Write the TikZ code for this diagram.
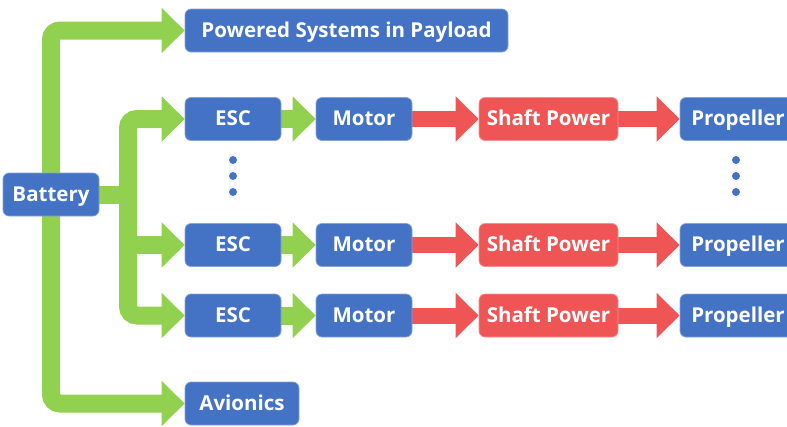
\documentclass[tikz,border=0pt]{standalone}
\usepackage{fontspec}
\setmainfont{Open Sans}
\usetikzlibrary{arrows.meta,backgrounds}
\definecolor{boxblue}{HTML}{4472C4}
\definecolor{boxred}{HTML}{F05555}
\definecolor{flowgreen}{HTML}{92D050}
\definecolor{flowred}{HTML}{F05555}
\begin{document}
\begin{tikzpicture}[x=1pt,y=-1pt,
  unit/.style={rounded corners=6pt, fill=boxblue, draw=boxblue!65!white, line width=0.7pt,
    text=white, font=\bfseries\fontsize{20.5}{24}\selectfont, minimum height=43pt, inner sep=0pt,
    text height=17.5pt, text depth=4.5pt},
  power/.style={unit, fill=boxred, draw=boxred!65!white},
  headtip/.tip={Triangle[length=23pt,width=44pt]},
  gflow/.style={draw=flowgreen, line width=18pt, rounded corners=9pt, -headtip},
  gboth/.style={gflow, headtip-headtip},
  gplain/.style={draw=flowgreen, line width=18pt},
  rflow/.style={draw=flowred, line width=16pt, -headtip},
  dot/.style={circle, fill=boxblue, inner sep=0pt, minimum size=8pt}
]
\useasboundingbox (0,0) rectangle (787,426);

% blocks
\node[unit, minimum width=323pt] (pay) at (346.5,30.5) {Powered Systems in Payload};
\node[unit, minimum width=96pt] (bat) at (51,194.5) {Battery};
\node[unit, minimum width=114pt] (avi) at (242,403.5) {Avionics};

\foreach \r/\y in {1/119, 2/245, 3/315.5} {
  \node[unit, minimum width=96pt] (esc\r) at (233,\y) {ESC};
  \node[unit, minimum width=96pt] (mot\r) at (364,\y) {Motor};
  \node[power, minimum width=139pt] (sh\r) at (548.5,\y) {Shaft Power};
  \node[unit, minimum width=116pt] (pr\r) at (738,\y) {Propeller};
}

% ellipsis dots
\foreach \n/\y in {a/160, b/176, c/192} {
  \node[dot] (ld\n) at (233,\y) {};
  \node[dot] (rd\n) at (736,\y) {};
}

\coordinate (hub) at (128,194.5);

\begin{scope}[on background layer]
  % battery bus to payload and avionics
  \draw[gboth] (pay.west) -| (bat.center) |- (avi.west);
  % battery to the ESC branches
  \draw[gplain] (bat.east) -- (hub);
  \draw[gboth] (esc1.west) -| (hub) |- (esc3.west);
  \draw[gflow, rounded corners=0pt] (hub) |- (esc2.west);
  % drive chains
  \foreach \r in {1,2,3} {
    \draw[gflow, rounded corners=0pt] (esc\r.east) -- (mot\r.west);
    \draw[rflow] (mot\r.east) -- (sh\r.west);
    \draw[rflow] (sh\r.east) -- (pr\r.west);
  }
\end{scope}
\end{tikzpicture}
\end{document}
